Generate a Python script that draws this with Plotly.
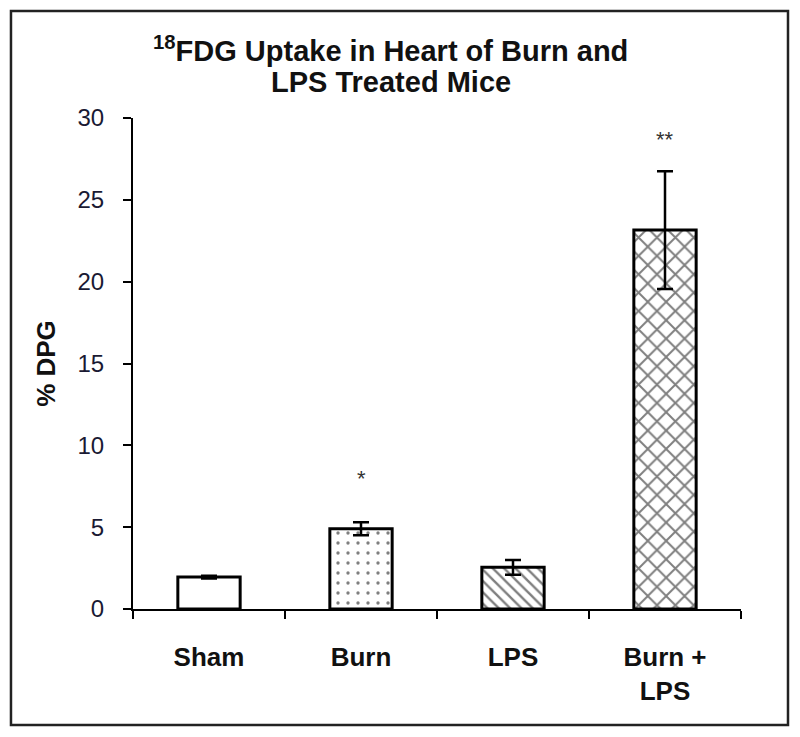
import plotly.graph_objects as go

# data
grupos = ["Sham", "Burn", "LPS", "Burn +<br>LPS"]
dpg_media = [1.95, 4.9, 2.55, 23.15]
dpg_erro = [0.08, 0.4, 0.45, 3.6]
padroes = ["", ".", "\\", "x"]
marcas = ["", "*", "", "**"]
marca_y = [0, 8.0, 0, 28.7]

FONTE = "Liberation Sans, Arial, sans-serif"

fig = go.Figure()

fig.add_trace(
    go.Bar(
        x=grupos,
        y=dpg_media,
        width=0.41,
        marker=dict(
            color="white",
            line=dict(color="black", width=3),
            pattern=dict(
                shape=padroes,
                fgcolor="black",
                bgcolor="white",
                size=[8, 10, 8, 13],
                solidity=[0.2, 0.09, 0.3, 0.28],
            ),
        ),
        error_y=dict(
            type="data",
            array=dpg_erro,
            color="black",
            thickness=2.5,
            width=8,
        ),
        showlegend=False,
    )
)

for g, m, y in zip(grupos, marcas, marca_y):
    if m:
        fig.add_annotation(
            x=g, y=y, text=m, showarrow=False,
            font=dict(family=FONTE, size=22, color="#333"),
        )

# two-line title
fig.add_annotation(
    xref="paper", yref="paper", x=0.424, y=1.0 + (110 - 41) / 491,
    yanchor="middle",
    text="<b><sup>18</sup>FDG Uptake in Heart of Burn and</b>",
    showarrow=False, font=dict(family=FONTE, size=29, color="#111"),
)
fig.add_annotation(
    xref="paper", yref="paper", x=0.424, y=1.0 + (110 - 74) / 491,
    yanchor="middle",
    text="<b>LPS Treated Mice</b>",
    showarrow=False, font=dict(family=FONTE, size=29, color="#111"),
)

# outer frame
fig.add_shape(
    type="rect", xref="paper", yref="paper",
    x0=-0.2007, x1=1.0773, y0=-0.2363, y1=1.2179,
    line=dict(color="#222", width=2.5),
)

fig.update_layout(
    width=792,
    height=729,
    margin=dict(l=125, r=59, t=110, b=128),
    paper_bgcolor="white",
    plot_bgcolor="white",
    font=dict(family=FONTE, color="#111"),
)

fig.update_xaxes(
    range=[-0.5, 3.5],
    showline=True,
    linecolor="black",
    linewidth=2,
    ticks="outside",
    tickson="boundaries",
    ticklen=8,
    tickwidth=2,
    tickcolor="black",
    ticklabelstandoff=24,
    tickfont=dict(family=FONTE, size=26, color="#111", weight="bold"),
    showgrid=False,
    zeroline=False,
)

fig.update_yaxes(
    range=[0, 30],
    dtick=5,
    showline=True,
    linecolor="black",
    linewidth=2,
    ticks="outside",
    ticklen=8,
    tickwidth=2,
    tickcolor="black",
    ticklabelstandoff=14,
    tickfont=dict(family=FONTE, size=24, color="#1a1a33"),
    showgrid=False,
    zeroline=False,
    title=dict(
        text="<b>% DPG</b>",
        font=dict(family=FONTE, size=26, color="#111"),
        standoff=14,
    ),
)

fig.write_html("out.html")
